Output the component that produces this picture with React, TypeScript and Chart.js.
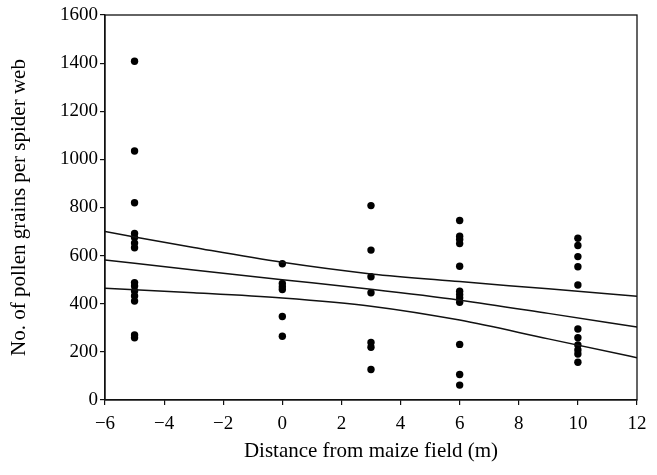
import { useEffect, useRef } from "react";
import { Chart, registerables } from "chart.js";

Chart.register(...registerables);

// Distances (m) at which webs were sampled
const distances = [-5, 0, 3, 6, 10];

// Pollen grains per spider web, one array per distance
const websAtMinus5 = [1408, 1035, 820, 692, 675, 652, 633, 488, 474, 453, 432, 411, 270, 259];
const websAt0 = [566, 484, 471, 459, 347, 265];
const websAt3 = [808, 623, 512, 446, 239, 219, 127];
const websAt6 = [746, 681, 667, 650, 556, 452, 438, 424, 406, 231, 106, 62];
const websAt10 = [672, 642, 596, 554, 478, 295, 259, 229, 208, 191, 157];

// Fitted regression curve and its confidence band
const fitX = [-6, -3, 0, 3, 6, 9, 12];
const upperBand = [700, 634, 572, 524, 492, 462, 431];
const fitted = [582, 540, 500, 460, 415, 360, 303];
const lowerBand = [464, 446, 424, 390, 332, 254, 176];

// Axis ticks
const xTicks = [-6, -4, -2, 0, 2, 4, 6, 8, 10, 12];
const yTicks = [0, 200, 400, 600, 800, 1000, 1200, 1400, 1600];

const xTitle = "Distance from maize field (m)";
const yTitle = "No. of pollen grains per spider web";

const fontFamily = '"Liberation Serif", "DejaVu Serif", "Times New Roman", serif';

export default function App() {
  const ref = useRef<HTMLCanvasElement>(null);

  useEffect(() => {
    if (!ref.current) return;
    const groups = [websAtMinus5, websAt0, websAt3, websAt6, websAt10];
    const points: { x: number; y: number }[] = [];
    groups.forEach((vals, i) => vals.forEach((v) => points.push({ x: distances[i], y: v })));
    const lineData = (ys: number[]) => fitX.map((x, i) => ({ x, y: ys[i] }));
    const fmt = (v: number) => (v < 0 ? "\u2212" + Math.abs(v) : String(v));
    const tickFont = { family: fontFamily, size: 19 };
    const titleFont = { family: fontFamily, size: 21 };
    const ink = "#111";

    const frame = {
      id: "frame",
      afterDatasetsDraw(chart: any) {
        const { ctx, chartArea: a } = chart;
        ctx.save();
        ctx.strokeStyle = ink;
        ctx.lineWidth = 1.3;
        ctx.strokeRect(a.left, a.top, a.right - a.left, a.bottom - a.top);
        ctx.restore();
      },
    };

    const lineStyle = {
      type: "line" as const,
      borderColor: ink,
      borderWidth: 1.5,
      pointRadius: 0,
      fill: false,
      cubicInterpolationMode: "monotone" as const,
    };

    const chart = new Chart(ref.current, {
      type: "scatter",
      data: {
        datasets: [
          { ...lineStyle, data: lineData(upperBand) },
          { ...lineStyle, data: lineData(fitted) },
          { ...lineStyle, data: lineData(lowerBand) },
          {
            type: "scatter",
            data: points,
            backgroundColor: "#000",
            borderColor: "#000",
            borderWidth: 0,
            pointRadius: 3.7,
          },
        ] as any,
      },
      options: {
        responsive: false,
        animation: false,
        layout: { padding: { top: 15, right: 20, left: 0, bottom: 0 } },
        plugins: { legend: { display: false }, tooltip: { enabled: false } },
        scales: {
          x: {
            type: "linear",
            min: -6,
            max: 12,
            afterBuildTicks: (s: any) => {
              s.ticks = xTicks.map((v) => ({ value: v }));
            },
            ticks: {
              callback: (v: any) => fmt(Number(v)),
              font: tickFont,
              color: "#000",
              padding: 8,
              maxRotation: 0,
              autoSkip: false,
            },
            grid: { drawOnChartArea: false, tickLength: 5, color: ink, lineWidth: 1.2 },
            border: { color: ink, width: 1.3 },
            title: { display: true, text: xTitle, font: titleFont, color: "#000", padding: { top: 4, bottom: 11 } },
            afterFit: (s: any) => {
              s.height = 75;
            },
          },
          y: {
            type: "linear",
            min: 0,
            max: 1600,
            afterBuildTicks: (s: any) => {
              s.ticks = yTicks.map((v) => ({ value: v }));
            },
            ticks: {
              callback: (v: any) => fmt(Number(v)),
              font: tickFont,
              color: "#000",
              padding: 2,
              autoSkip: false,
            },
            grid: { drawOnChartArea: false, tickLength: 5, color: ink, lineWidth: 1.2 },
            border: { color: ink, width: 1.3 },
            title: { display: true, text: yTitle, font: titleFont, color: "#000", padding: { top: 7, bottom: 4 } },
            afterFit: (s: any) => {
              s.width = 105;
            },
          },
        },
      } as any,
      plugins: [frame],
    });
    return () => chart.destroy();
  }, []);

  return (
    <div style={{ position: "absolute", left: 0, top: 0, width: 657, height: 475, background: "#fff" }}>
      <canvas ref={ref} width={657} height={475} style={{ display: "block" }} />
    </div>
  );
}
